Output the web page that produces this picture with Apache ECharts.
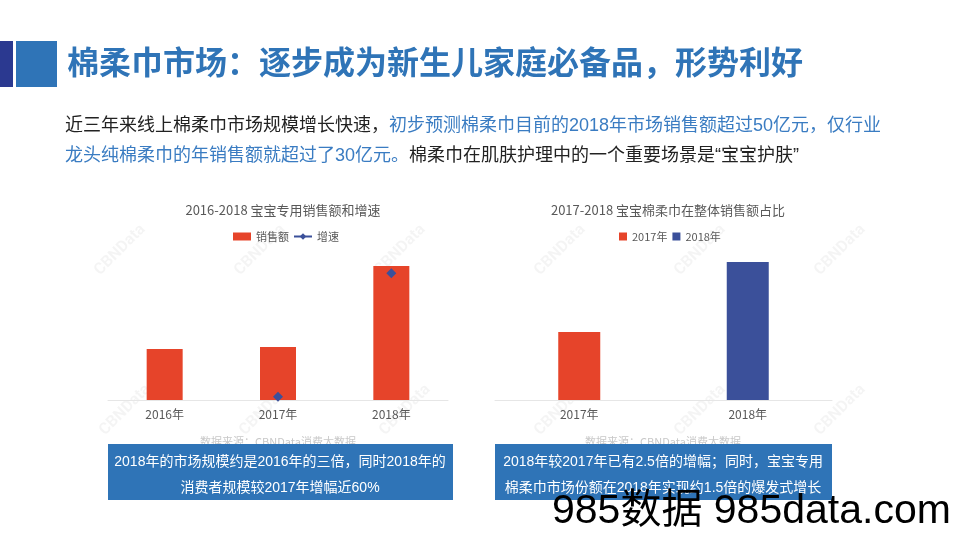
<!DOCTYPE html>
<html>
<head>
<meta charset="utf-8">
<script src="https://cdn.jsdelivr.net/npm/echarts@6/dist/echarts.min.js"></script>
<style>
html,body{margin:0;padding:0;background:#fff;}
#chart{width:960px;height:540px;}
</style>
</head>
<body>
<div id="chart"></div>
<script>
// ---- data ----
var leftCategories = ['2016年', '2017年', '2018年'];
var salesValues = [5.1, 5.3, 13.4];          // 销售额 (relative)
var growthValues = ['-', 0.04, 1.52];        // 增速
var rightCategories = ['2017年', '2018年'];
var share2017 = [6.8, '-'];
var share2018 = ['-', 13.8];

var pageTitle = '棉柔巾市场：逐步成为新生儿家庭必备品，形势利好';
var leftChartTitle = '2016-2018 宝宝专用销售额和增速';
var rightChartTitle = '2017-2018 宝宝棉柔巾在整体销售额占比';
var leftCaption = ['2018年的市场规模约是2016年的三倍，同时2018年的', '消费者规模较2017年增幅近60%'];
var rightCaption = ['2018年较2017年已有2.5倍的增幅；同时，宝宝专用', '棉柔巾市场份额在2018年实现约1.5倍的爆发式增长'];

var RED = '#E6442A', NAVY = '#3B509A', BLUE = '#2F74B7';
var FONT = '"Noto Sans CJK SC", "Noto Sans", sans-serif';
var MIX = '"Liberation Sans", "Noto Sans CJK SC", sans-serif';

var chart = echarts.init(document.getElementById('chart'), null, {renderer: 'canvas'});

var watermarks = [];
[[120,250],[260,250],[400,250],[125,410],[265,410],[405,410],
 [560,250],[700,250],[840,250],[560,410],[700,410],[840,410]].forEach(function(p){
  watermarks.push({type:'text', x:p[0], y:p[1], rotation:Math.PI/4, z:0,
    style:{text:'CBNData', fill:'rgba(0,0,0,0.045)', font:'bold 16px Roboto, sans-serif', align:'center', verticalAlign:'middle'}});
});

var graphics = watermarks.concat([
  {type:'rect', shape:{x:0,y:41,width:13,height:46}, style:{fill:'#2B3990'}},
  {type:'rect', shape:{x:16,y:41,width:41,height:46}, style:{fill:BLUE}},
  {type:'text', x:67, y:62, style:{text:pageTitle, fill:BLUE, font:'bold 32px ' + FONT, verticalAlign:'middle'}},
  {type:'text', x:65, y:126, style:{
    text:'{k|近三年来线上棉柔巾市场规模增长快速，}{b|初步预测棉柔巾目前的2018年市场销售额超过50亿元，仅行业}',
    verticalAlign:'middle',
    rich:{k:{fill:'#222', font:'18px ' + MIX}, b:{fill:'#3A7CC2', font:'18px ' + MIX}}
  }},
  {type:'text', x:65, y:156, style:{
    text:'{b|龙头纯棉柔巾的年销售额就超过了30亿元。}{k|棉柔巾在肌肤护理中的一个重要场景是“宝宝护肤”}',
    verticalAlign:'middle',
    rich:{k:{fill:'#222', font:'18px ' + MIX}, b:{fill:'#3A7CC2', font:'18px ' + MIX}}
  }},
  {type:'text', x:278, y:442, style:{text:'数据来源：CBNData消费大数据', fill:'#c8c8c8', font:'11px ' + FONT, align:'center', verticalAlign:'middle'}},
  {type:'text', x:663, y:442, style:{text:'数据来源：CBNData消费大数据', fill:'#c8c8c8', font:'11px ' + FONT, align:'center', verticalAlign:'middle'}},
  {type:'rect', shape:{x:108,y:444,width:345,height:56}, style:{fill:BLUE}, z:10},
  {type:'text', x:280, y:462, z:11, style:{text:leftCaption[0], fill:'#fff', font:'14px ' + MIX, align:'center', verticalAlign:'middle'}},
  {type:'text', x:280, y:488, z:11, style:{text:leftCaption[1], fill:'#fff', font:'14px ' + MIX, align:'center', verticalAlign:'middle'}},
  {type:'rect', shape:{x:495,y:444,width:337,height:56}, style:{fill:BLUE}, z:10},
  {type:'text', x:663, y:462, z:11, style:{text:rightCaption[0], fill:'#fff', font:'14px ' + MIX, align:'center', verticalAlign:'middle'}},
  {type:'text', x:663, y:488, z:11, style:{text:rightCaption[1], fill:'#fff', font:'14px ' + MIX, align:'center', verticalAlign:'middle'}},
  {type:'text', x:552, y:512, z:12, style:{text:'985数据 985data.com', fill:'#000', font:'41px "Liberation Sans", ' + FONT, verticalAlign:'middle'}}
]);

var axisLabelStyle = {color:'#595959', fontSize:12, fontFamily:FONT, margin:8};

chart.setOption({
  animation:false,
  textStyle:{fontFamily:FONT},
  title:[
    {text:leftChartTitle, left:278, top:199, textAlign:'center', textStyle:{color:'#595959', fontSize:13, fontWeight:'normal', fontFamily:FONT}},
    {text:rightChartTitle, left:663, top:199, textAlign:'center', textStyle:{color:'#595959', fontSize:13, fontWeight:'normal', fontFamily:FONT}}
  ],
  legend:[
    {left:228, top:226, itemGap:4, itemWidth:18, itemHeight:8,
     textStyle:{color:'#595959', fontSize:11, fontFamily:FONT},
     data:[{name:'销售额', icon:'rect'}, {name:'增速', lineStyle:{width:2, color:NAVY, opacity:1}}]},
    {left:614, top:226, itemGap:5, itemWidth:8, itemHeight:8, icon:'rect',
     textStyle:{color:'#595959', fontSize:11, fontFamily:FONT},
     data:['2017年', '2018年']}
  ],
  grid:[
    {left:108, top:250, width:340, height:150},
    {left:495, top:250, width:337, height:150}
  ],
  xAxis:[
    {type:'category', gridIndex:0, data:leftCategories, axisTick:{show:false},
     axisLine:{lineStyle:{color:'#e6e6e6'}}, axisLabel:axisLabelStyle},
    {type:'category', gridIndex:1, data:rightCategories, axisTick:{show:false},
     axisLine:{lineStyle:{color:'#e6e6e6'}}, axisLabel:axisLabelStyle}
  ],
  yAxis:[
    {type:'value', gridIndex:0, min:0, max:15, show:false},
    {type:'value', gridIndex:0, min:0, max:1.8, show:false},
    {type:'value', gridIndex:1, min:0, max:15, show:false}
  ],
  series:[
    {name:'销售额', type:'bar', xAxisIndex:0, yAxisIndex:0, data:salesValues, barWidth:36, itemStyle:{color:RED}},
    {name:'增速', type:'line', xAxisIndex:0, yAxisIndex:1, data:growthValues, symbol:'diamond', symbolSize:10,
     itemStyle:{color:NAVY}, lineStyle:{width:0, opacity:0}, z:5},
    {name:'2017年', type:'bar', xAxisIndex:1, yAxisIndex:2, stack:'s', data:share2017, barWidth:42, itemStyle:{color:RED}},
    {name:'2018年', type:'bar', xAxisIndex:1, yAxisIndex:2, stack:'s', data:share2018, barWidth:42, itemStyle:{color:NAVY}}
  ],
  graphic:graphics
});
</script>
</body>
</html>
